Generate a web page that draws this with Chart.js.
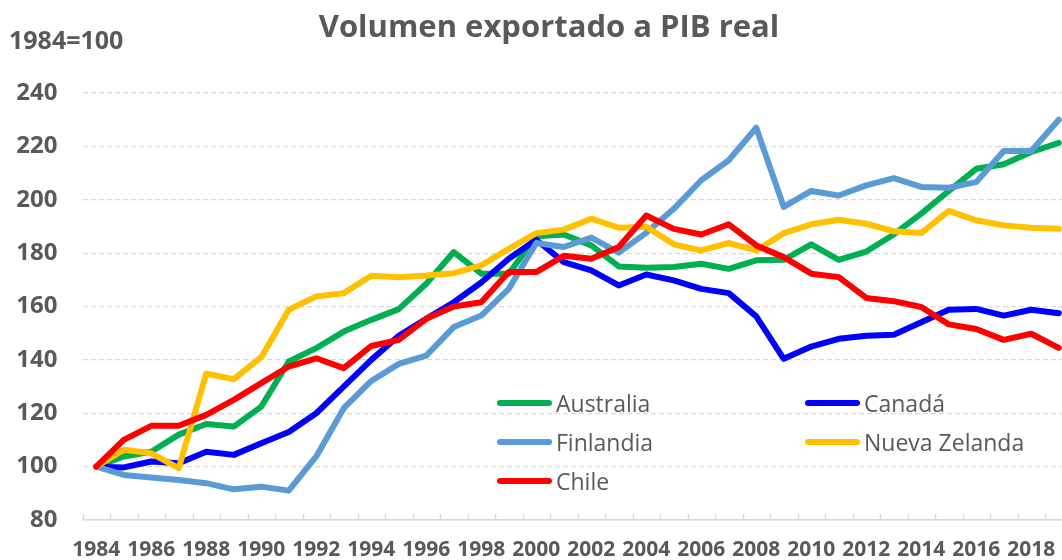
<!DOCTYPE html>
<html>
<head>
<meta charset="utf-8">
<script src="https://cdn.jsdelivr.net/npm/chart.js@4"></script>
<style>
  html, body { margin: 0; padding: 0; background: #fff; overflow: hidden; width: 1062px; height: 560px; }
  #wrap { position: absolute; left: 0; top: 0; width: 1090px; height: 560px; }
  .txt { position: absolute; color: #595959; font-family: 'Open Sans', sans-serif; white-space: nowrap; }
  #titulo { left: 0; width: 1098px; text-align: center; top: 6px; font-size: 31px; font-weight: bold; line-height: 38px; }
  #base { left: 9px; top: 23px; font-size: 25px; font-weight: bold; line-height: 32px; }
  .leg { position: absolute; font-family: 'Open Sans', sans-serif; font-size: 23px; color: #595959; line-height: 28px; white-space: nowrap; }
  .leg span.sw { position: absolute; left: 0; top: 11px; width: 55px; height: 6px; border-radius: 3px; }
  .leg span.lb { position: absolute; left: 59px; top: 0; }
</style>
</head>
<body>
<div id="wrap">
  <canvas id="grafico" width="1090" height="560"></canvas>
</div>
<div class="txt" id="titulo">Volumen exportado a PIB real</div>
<div class="txt" id="base">1984=100</div>
<div id="leyenda"></div>
<script>
// años
var anios = [];
for (var a = 1984; a <= 2019; a++) anios.push(String(a));

var australia = [100, 103.8, 105.6, 112, 116, 115, 122.5, 139.4, 144.4, 150.6,
  155, 159, 168.5, 180.4, 172.3, 172.3, 186.3, 187, 182.9, 175,
  174.5, 174.8, 176, 174.1, 177.3, 177.5, 183.3, 177.5, 180.6, 187,
  194.8, 203.3, 211.6, 213.3, 217.9, 221.3];
var canada = [100, 99.7, 101.9, 101.3, 105.6, 104.4, 108.8, 113, 120, 130,
  140, 149, 155.4, 161.6, 169, 177.9, 185, 176.6, 173.5, 167.9,
  172, 169.8, 166.6, 165, 156.3, 140.4, 145, 147.9, 149, 149.4,
  154.1, 158.8, 159.1, 156.6, 158.8, 157.5];
var finlandia = [100, 96.9, 95.9, 95, 93.8, 91.5, 92.5, 91, 103.8, 121.9,
  132.1, 138.5, 141.6, 152.3, 156.6, 166.6, 183.8, 182.3, 185.8, 180.2,
  187.6, 196.6, 207.3, 214.8, 227, 197.3, 203.3, 201.6, 205.4, 208.1,
  204.8, 204.5, 206.6, 218.3, 218.3, 230];
var nuevaZelanda = [100, 106.3, 105, 99.4, 134.8, 132.8, 141, 158.8, 163.8, 165,
  171.5, 171, 171.6, 172.5, 175.4, 181.6, 187.5, 188.8, 192.9, 189.5,
  189.9, 183.3, 181, 183.8, 181, 187.5, 190.8, 192.5, 191, 188.2,
  187.5, 195.8, 192.3, 190.4, 189.5, 189.1];
var chile = [100, 110, 115.3, 115.3, 119.4, 125, 131.3, 137.5, 140.6, 136.9,
  145.2, 147.5, 155.4, 160, 161.6, 172.9, 172.9, 179, 177.9, 182.3,
  194.1, 189.1, 187, 190.8, 182.9, 178.5, 172.3, 171, 163.2, 162,
  159.8, 153.3, 151.6, 147.5, 149.8, 144.5];

var paises = ['Australia', 'Canadá', 'Finlandia', 'Nueva Zelanda', 'Chile'];
var series = [australia, canada, finlandia, nuevaZelanda, chile];
var colores = ['#00B050', '#0000FF', '#5B9BD5', '#FFC000', '#FF0000'];

var gris = '#595959';
var lineaGris = '#D9D9D9';

var dataSets = [];
for (var i = 0; i < series.length; i++) {
  dataSets.push({
    label: paises[i],
    data: series[i],
    borderColor: colores[i],
    backgroundColor: colores[i],
    borderWidth: 6,
    pointRadius: 0,
    tension: 0,
    fill: false,
    borderCapStyle: 'round',
    borderJoinStyle: 'round',
    order: series.length - 1 - i
  });
}

// marcas del eje x hacia arriba, entre categorias
var marcasX = {
  id: 'marcasX',
  beforeDatasetsDraw: function (chart) {
    var x = chart.scales.x;
    var ctx = chart.ctx;
    var paso = x.getPixelForValue(1) - x.getPixelForValue(0);
    var y0 = chart.chartArea.bottom;
    ctx.save();
    ctx.strokeStyle = lineaGris;
    ctx.lineWidth = 1.5;
    ctx.beginPath();
    for (var k = 0; k <= anios.length; k++) {
      var px = Math.round(x.getPixelForValue(k) - paso / 2) + 0.5;
      ctx.moveTo(px, y0);
      ctx.lineTo(px, y0 - 6);
    }
    ctx.stroke();
    ctx.restore();
  }
};

var ctx = document.getElementById('grafico').getContext('2d');
var chart = new Chart(ctx, {
  type: 'line',
  data: { labels: anios, datasets: dataSets },
  options: {
    responsive: false,
    animation: false,
    layout: { padding: { top: 93, right: 17.5, bottom: 0, left: 0 } },
    plugins: { legend: { display: false }, title: { display: false }, tooltip: { enabled: false } },
    scales: {
      x: {
        offset: true,
        grid: { display: false },
        border: { display: true, color: lineaGris, width: 1.5 },
        ticks: {
          autoSkip: false,
          maxRotation: 0,
          padding: 9,
          color: gris,
          font: { family: 'Open Sans', size: 21, weight: 'bold' },
          callback: function (v, idx) { return idx % 2 === 0 ? anios[idx] : ''; }
        },
        afterFit: function (s) { s.height = 40; }
      },
      y: {
        min: 80,
        max: 240,
        grid: { color: lineaGris, lineWidth: 1.2, drawTicks: false },
        border: { display: false, dash: [5, 3] },
        ticks: {
          stepSize: 20,
          padding: 25,
          color: gris,
          font: { family: 'Open Sans', size: 24, weight: 'bold' }
        },
        afterFit: function (s) { s.width = 82.5; }
      }
    }
  },
  plugins: [marcasX]
});

// leyenda dentro del area
var posLeyenda = [[497, 389], [805, 389], [497, 428], [805, 428], [497, 467]];
var ley = document.getElementById('leyenda');
for (var j = 0; j < paises.length; j++) {
  var d = document.createElement('div');
  d.className = 'leg';
  d.style.left = posLeyenda[j][0] + 'px';
  d.style.top = posLeyenda[j][1] + 'px';
  d.innerHTML = '<span class="sw" style="background:' + colores[j] + '"></span><span class="lb">' + paises[j] + '</span>';
  ley.appendChild(d);
}
</script>
</body>
</html>
